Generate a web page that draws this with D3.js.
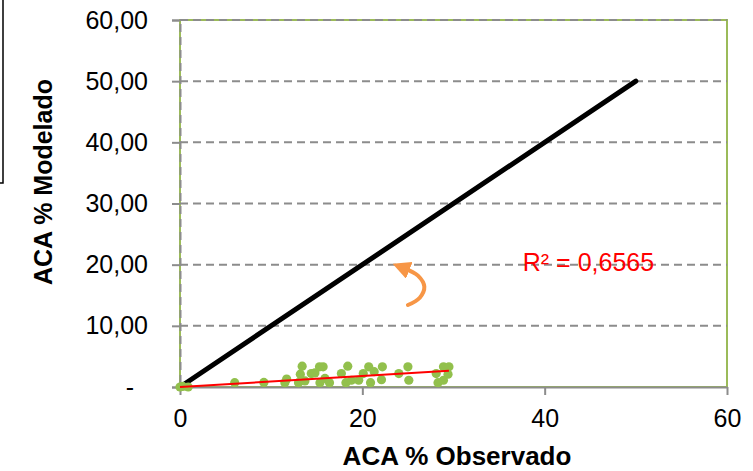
<!DOCTYPE html>
<html>
<head>
<meta charset="utf-8">
<script src="https://cdn.jsdelivr.net/npm/d3@7/dist/d3.min.js"></script>
<style>
  body { margin: 0; background: #fff; }
  text { font-family: Arial, "Liberation Sans", sans-serif; }
</style>
</head>
<body>
<div id="chart"></div>
<script>
// data
var observado = [0, 0.3, 0.9, 6.0, 9.2, 11.5, 11.7, 13.0, 13.2, 13.4, 13.7, 14.4, 14.8, 15.3, 15.7, 15.35, 15.9, 16.4,
                 17.7, 18.2, 18.4, 18.8, 19.6, 20.1, 20.7, 20.9, 21.3, 22.2, 22.1, 24.0, 25.0, 25.1,
                 28.1, 28.3, 28.9, 29.5, 29.4, 28.9];
var modelado  = [0, 0.1, 0, 0.7, 0.75, 0.7, 1.3, 0.7, 2.1, 3.4, 1.0, 2.2, 2.3, 3.3, 3.3, 0.7, 1.4, 0.7,
                 2.2, 0.7, 3.4, 1.1, 1.1, 2.2, 3.3, 0.7, 2.5, 3.3, 1.2, 2.2, 3.3, 1.1,
                 2.2, 0.7, 3.3, 3.3, 2.1, 1.1];
var lineaX = [0, 50], lineaY = [0, 50];          // 1:1 line
var tendX = [0, 29.5], tendY = [0, 2.65];        // linear trend
var r2Label = "R² = 0,6565";
var xTicks = [0, 20, 40, 60];
var yTicks = [0, 10, 20, 30, 40, 50, 60];
// orange arrow, data units
var flecha = [[25.0, 13.4], [26.3, 14.6], [26.8, 16.4], [26.1, 18.2], [24.6, 19.4]];

var width = 753, height = 471;
var margin = {top: 20, right: 26, bottom: 84, left: 180};

var svg = d3.select("#chart").append("svg")
    .attr("width", width)
    .attr("height", height);

var x = d3.scaleLinear().domain([0, 60]).range([margin.left, width - margin.right]);
var y = d3.scaleLinear().domain([0, 60]).range([height - margin.bottom, margin.top]);

// frame of plot area
svg.append("rect")
    .attr("x", x(0)).attr("y", y(60))
    .attr("width", x(60) - x(0)).attr("height", y(0) - y(60))
    .attr("fill", "none")
    .attr("stroke", "#9bbb59")
    .attr("stroke-width", 2);

// gridlines
svg.append("g").selectAll("line")
    .data(yTicks.filter(function(d) { return d > 0; }))
    .enter().append("line")
      .attr("x1", x(0)).attr("x2", x(60))
      .attr("y1", function(d) { return y(d); })
      .attr("y2", function(d) { return y(d); })
      .attr("stroke", "#8c8c8c")
      .attr("stroke-width", 2)
      .attr("stroke-dasharray", "8,5");

// y axis
var yAxis = svg.append("g")
    .attr("transform", "translate(" + x(0) + ",0)")
    .call(d3.axisLeft(y).tickValues(yTicks).tickSize(8).tickPadding(24)
      .tickFormat(function(d) { return d === 0 ? "-" : d3.format(".2f")(d).replace(".", ","); }));
yAxis.select(".domain").attr("stroke", "#8c8c8c").attr("stroke-width", 2).attr("stroke-dasharray", "8,5");
yAxis.selectAll(".tick line").attr("stroke", "#8c8c8c").attr("stroke-width", 2);
yAxis.selectAll(".tick text").attr("font-size", 25).attr("fill", "#000")
    .attr("font-family", "Arial, 'Liberation Sans', sans-serif");
yAxis.selectAll(".tick text").filter(function(d) { return d === 0; }).attr("dx", -14);

// x axis
var xAxis = svg.append("g")
    .attr("transform", "translate(0," + y(0) + ")")
    .call(d3.axisBottom(x).tickValues(xTicks).tickSize(8).tickSizeOuter(0).tickPadding(14));
xAxis.select(".domain").attr("stroke", "#8c8c8c").attr("stroke-width", 2);
xAxis.selectAll(".tick line").attr("stroke", "#8c8c8c").attr("stroke-width", 2);
xAxis.selectAll(".tick text").attr("font-size", 25).attr("fill", "#000")
    .attr("font-family", "Arial, 'Liberation Sans', sans-serif");

// 1:1 line
svg.append("line")
    .attr("x1", x(lineaX[0])).attr("y1", y(lineaY[0]))
    .attr("x2", x(lineaX[1])).attr("y2", y(lineaY[1]))
    .attr("stroke", "#000")
    .attr("stroke-width", 5)
    .attr("stroke-linecap", "round");

// points
svg.append("g").selectAll("circle")
    .data(observado)
    .enter().append("circle")
      .attr("cx", function(d) { return x(d); })
      .attr("cy", function(d, i) { return y(modelado[i]); })
      .attr("r", 4.6)
      .attr("fill", "#92c04c");

// trend line
svg.append("line")
    .attr("x1", x(tendX[0])).attr("y1", y(tendY[0]))
    .attr("x2", x(tendX[1])).attr("y2", y(tendY[1]))
    .attr("stroke", "#ff0000")
    .attr("stroke-width", 2);

// R2 label
svg.append("text")
    .attr("x", x(37.6)).attr("y", y(19.0))
    .attr("font-size", 25)
    .attr("fill", "#ff0000")
    .text(r2Label);

// orange arrow
svg.append("defs").append("marker")
    .attr("id", "head")
    .attr("viewBox", "0 0 10 10")
    .attr("refX", 3).attr("refY", 5)
    .attr("markerWidth", 4.5).attr("markerHeight", 4.5)
    .attr("orient", "auto")
  .append("path")
    .attr("d", "M0,0 L10,5 L0,10 Z")
    .attr("fill", "#f79646");

svg.append("path")
    .attr("d", d3.line().curve(d3.curveCatmullRom)
      .x(function(d) { return x(d[0]); })
      .y(function(d) { return y(d[1]); })(flecha))
    .attr("fill", "none")
    .attr("stroke", "#f79646")
    .attr("stroke-width", 4)
    .attr("stroke-linecap", "round")
    .attr("marker-end", "url(#head)");

// axis titles
svg.append("text")
    .attr("x", 457).attr("y", 465)
    .attr("text-anchor", "middle")
    .attr("font-size", 26).attr("font-weight", "bold")
    .text("ACA % Observado");

svg.append("text")
    .attr("transform", "translate(52,182) rotate(-90)")
    .attr("text-anchor", "middle")
    .attr("font-size", 25).attr("font-weight", "bold")
    .text("ACA % Modelado");

// cut-off box at the left edge
svg.append("path")
    .attr("d", "M3,0 V183 H-5")
    .attr("fill", "none")
    .attr("stroke", "#000")
    .attr("stroke-width", 1.5);
</script>
</body>
</html>
